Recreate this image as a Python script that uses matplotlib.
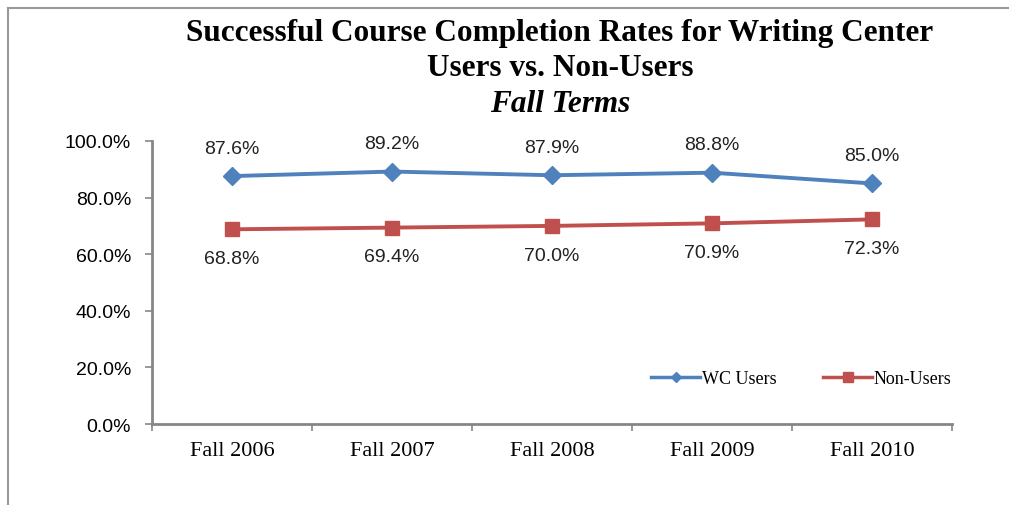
import matplotlib
matplotlib.use("Agg")
import matplotlib.pyplot as plt
from matplotlib.lines import Line2D

terms = ["Fall 2006", "Fall 2007", "Fall 2008", "Fall 2009", "Fall 2010"]
wc_users = [87.6, 89.2, 87.9, 88.8, 85.0]
non_users = [68.8, 69.4, 70.0, 70.9, 72.3]

BLUE = "#4F81BD"
RED = "#C0504D"
GRAY = "#868686"
SERIF = ["Liberation Serif", "DejaVu Serif"]
SANS = ["Liberation Sans", "DejaVu Sans"]

W, H = 1009, 506
fig = plt.figure(figsize=(W / 100, H / 100), dpi=100)
ax = fig.add_axes([152 / W, 1 - 425 / H, 800 / W, 283 / H])

x = list(range(len(terms)))
ax.plot(x, wc_users, color=BLUE, lw=2.8, marker="D", ms=9, label="WC Users")
ax.plot(x, non_users, color=RED, lw=2.8, marker="s", ms=10, label="Non-Users")

for xi, v in zip(x, wc_users):
    ax.annotate(f"{v:.1f}%", (xi, v), xytext=(0, 14), textcoords="offset points",
                ha="center", va="bottom", fontsize=14, family=SANS, color="#222222")
for xi, v in zip(x, non_users):
    ax.annotate(f"{v:.1f}%", (xi, v), xytext=(0, -15), textcoords="offset points",
                ha="center", va="top", fontsize=14, family=SANS, color="#222222")

ax.set_xlim(-0.5, len(terms) - 0.5)
ax.set_ylim(0, 100)
ax.set_yticks([0, 20, 40, 60, 80, 100])
ax.set_yticklabels([f"{t:.1f}%" for t in range(0, 101, 20)], family=SANS, fontsize=14)
ax.set_xticks([i - 0.5 for i in range(len(terms) + 1)], minor=False)
ax.set_xticklabels([])
ax.set_xticks(x, minor=True)
ax.set_xticklabels(terms, minor=True, family=SERIF, fontsize=16)
ax.tick_params(axis="x", which="minor", length=0, pad=12)
ax.tick_params(axis="x", which="major", length=5, color=GRAY, width=1.2)
ax.tick_params(axis="y", length=5, color=GRAY, width=1.2, pad=10)
for s in ("top", "right"):
    ax.spines[s].set_visible(False)
for s in ("left", "bottom"):
    ax.spines[s].set_color(GRAY)
    ax.spines[s].set_linewidth(2)

handles = [Line2D([], [], color=BLUE, lw=2.5, marker="D", ms=5),
           Line2D([], [], color=RED, lw=2.5, marker="s", ms=7)]
ax.legend(handles, ["WC Users", "Non-Users"], loc="lower right",
          bbox_to_anchor=(1.02, 0.072), ncol=2, frameon=False, handlelength=2.7,
          handletextpad=0.1, columnspacing=2.6, prop={"family": SERIF, "size": 13})

fig.text(560 / W, 1 - 33 / H, "Successful Course Completion Rates for Writing Center",
         ha="center", va="center", family=SERIF, fontsize=22.5, fontweight="bold")
fig.text(560 / W, 1 - 68 / H, "Users vs. Non-Users",
         ha="center", va="center", family=SERIF, fontsize=22.5, fontweight="bold")
fig.text(560 / W, 1 - 104 / H, "Fall Terms",
         ha="center", va="center", family=SERIF, fontsize=22.5, fontweight="bold",
         style="italic")

# outer chart frame (top and left edges visible in the source)
fig.add_artist(Line2D([8 / W, 1], [1 - 9 / H, 1 - 9 / H], color="#999999", lw=1.5))
fig.add_artist(Line2D([8 / W, 8 / W], [0, 1 - 9 / H], color="#999999", lw=1.5))

fig.savefig("out.png", dpi=100)
